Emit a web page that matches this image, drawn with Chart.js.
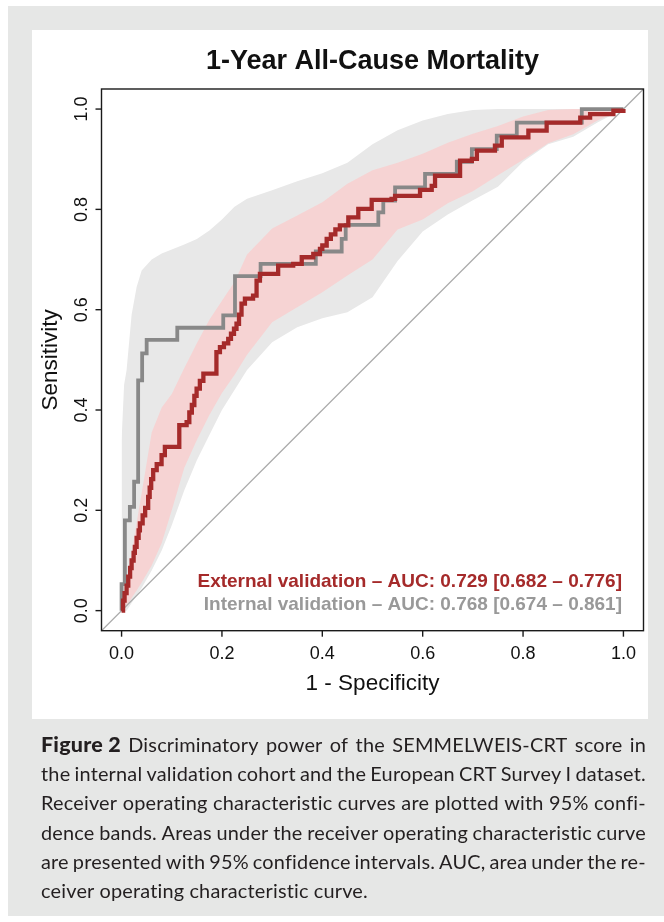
<!DOCTYPE html>
<html>
<head>
<meta charset="utf-8">
<script src="https://cdn.jsdelivr.net/npm/chart.js@4"></script>
<style>
  html, body { margin: 0; padding: 0; background: #fff; }
  #wrap { position: relative; width: 664px; height: 922px; }
  #caption {
    position: absolute; left: 41px; top: 730px; width: 605px;
    font-family: Lato, 'Noto Sans', sans-serif; font-size: 19.9px; letter-spacing: 0.2px; color: #231f20;
  }
  #caption .ln { display: flex; justify-content: space-between; height: 29.2px; line-height: 29.2px; white-space: nowrap; }
  #caption .ln.last { justify-content: flex-start; gap: 0.25em; }
  #caption b { font-weight: 900; font-size: 21.5px; }
</style>
</head>
<body>
<div id="wrap">
  <canvas id="roc" width="664" height="922"></canvas>
  <div id="caption"></div>
</div>
<script>
/* eslint-disable no-undef */
const xTicks = [0, 0.2, 0.4, 0.6, 0.8, 1.0]
const yTicks = [0, 0.2, 0.4, 0.6, 0.8, 1.0]
const axisMin = -0.04
const axisMax = 1.04

// internal validation ROC (gray, steps)
const intRocX = [0, 0, 0.0066, 0.0165, 0.025, 0.033, 0.041, 0.050, 0.111, 0.2026, 0.226, 0.277, 0.387, 0.4386, 0.4466, 0.5116, 0.5215, 0.545, 0.6047, 0.668, 0.698, 0.7476, 0.7875, 0.917, 1.0]
const intRocY = [0, 0.053, 0.18, 0.207, 0.257, 0.459, 0.513, 0.540, 0.564, 0.5886, 0.667, 0.6915, 0.716, 0.741, 0.769, 0.794, 0.8175, 0.844, 0.8706, 0.895, 0.920, 0.947, 0.973, 1.0, 1.0]

// external validation ROC (red, steps)
const extRocX = [0, 0.003, 0.006, 0.01, 0.0133, 0.017, 0.02, 0.024, 0.0265, 0.03, 0.034, 0.0365, 0.042, 0.047, 0.053, 0.056, 0.059, 0.063, 0.07, 0.0797, 0.0863, 0.115, 0.1296, 0.135, 0.14, 0.145, 0.1495, 0.156, 0.163, 0.189, 0.196, 0.204, 0.2125, 0.218, 0.224, 0.229, 0.234, 0.239, 0.2458, 0.262, 0.269, 0.2757, 0.312, 0.342, 0.359, 0.382, 0.3953, 0.40, 0.4087, 0.417, 0.426, 0.435, 0.4518, 0.4717, 0.4984, 0.538, 0.545, 0.5947, 0.618, 0.6246, 0.6745, 0.698, 0.708, 0.744, 0.7576, 0.8106, 0.847, 0.914, 0.9336, 0.98, 1.0]
const extRocY = [0, 0.02, 0.035, 0.05, 0.068, 0.085, 0.10, 0.115, 0.127, 0.145, 0.16, 0.174, 0.19, 0.205, 0.227, 0.245, 0.262, 0.280, 0.292, 0.310, 0.3265, 0.37, 0.376, 0.395, 0.41, 0.428, 0.4427, 0.458, 0.4725, 0.5155, 0.5255, 0.533, 0.542, 0.552, 0.562, 0.572, 0.59, 0.612, 0.622, 0.628, 0.658, 0.6716, 0.688, 0.6915, 0.7046, 0.711, 0.7213, 0.728, 0.741, 0.75, 0.76, 0.768, 0.784, 0.801, 0.819, 0.821, 0.827, 0.8387, 0.847, 0.867, 0.897, 0.9005, 0.917, 0.927, 0.9435, 0.957, 0.973, 0.983, 0.990, 0.9966, 1.0]

// 95% confidence bands (sensitivity at fixed 1 - specificity)
const bandX = [0, 0.005, 0.01, 0.02, 0.03, 0.04, 0.06, 0.08, 0.1, 0.125, 0.15, 0.175, 0.2, 0.225, 0.25, 0.3, 0.35, 0.4, 0.45, 0.5, 0.55, 0.6, 0.65, 0.7, 0.75, 0.8, 0.85, 0.9, 0.95, 1.0]
const intUpper = [0.34, 0.45, 0.48, 0.59, 0.645, 0.678, 0.70, 0.712, 0.72, 0.73, 0.741, 0.758, 0.78, 0.805, 0.821, 0.838, 0.856, 0.872, 0.893, 0.93, 0.958, 0.977, 0.99, 0.998, 1, 1, 1, 1, 1, 1]
const intLower = [0, 0, 0, 0.015, 0.03, 0.045, 0.08, 0.12, 0.17, 0.24, 0.3, 0.35, 0.4, 0.44, 0.48, 0.535, 0.565, 0.583, 0.595, 0.625, 0.697, 0.756, 0.79, 0.818, 0.845, 0.895, 0.93, 0.945, 0.974, 1]
const extUpper = [0, 0.025, 0.055, 0.115, 0.175, 0.234, 0.355, 0.405, 0.432, 0.484, 0.533, 0.58, 0.618, 0.655, 0.71, 0.762, 0.788, 0.814, 0.851, 0.878, 0.893, 0.911, 0.933, 0.951, 0.966, 0.985, 0.998, 1, 1, 1]
const extLower = [0, 0.003, 0.008, 0.025, 0.04, 0.056, 0.09, 0.135, 0.2, 0.285, 0.34, 0.39, 0.434, 0.47, 0.51, 0.575, 0.605, 0.635, 0.668, 0.70, 0.76, 0.78, 0.812, 0.836, 0.868, 0.899, 0.932, 0.95, 0.978, 1]

const captionLines = [
  ['<b>Figure&nbsp;2</b>', 'Discriminatory', 'power', 'of', 'the', 'SEMMELWEIS-CRT', 'score', 'in'],
  ['the', 'internal', 'validation', 'cohort', 'and', 'the', 'European', 'CRT', 'Survey', 'I', 'dataset.'],
  ['Receiver', 'operating', 'characteristic', 'curves', 'are', 'plotted', 'with', '95%', 'confi-'],
  ['dence', 'bands.', 'Areas', 'under', 'the', 'receiver', 'operating', 'characteristic', 'curve'],
  ['are', 'presented', 'with', '95%', 'confidence', 'intervals.', 'AUC,', 'area', 'under', 'the', 're-'],
  ['ceiver', 'operating', 'characteristic', 'curve.'],
]

const RED = '#a52a2a'
const GREY = '#888888'
const SANS = "'Liberation Sans', Arial, sans-serif"

const pts = (xs, ys) => xs.map((x, i) => ({ x, y: ys[i] }))

const cap = document.getElementById('caption')
captionLines.forEach((words, i) => {
  const d = document.createElement('div')
  d.className = i === captionLines.length - 1 ? 'ln last' : 'ln'
  d.innerHTML = words.map(w => '<span>' + w + '</span>').join('')
  cap.appendChild(d)
})

const frame = {
  id: 'frame',
  beforeDraw(chart) {
    const c = chart.ctx
    c.save()
    c.fillStyle = '#ffffff'
    c.fillRect(0, 0, 664, 922)
    c.fillStyle = '#e6e7e6'
    c.fillRect(8, 6, 656, 910)
    c.fillStyle = '#ffffff'
    c.fillRect(32, 30, 616, 689)
    c.restore()
  },
  afterDatasetsDraw(chart) {
    const c = chart.ctx
    const a = chart.chartArea
    const sx = chart.scales.x
    const sy = chart.scales.y
    c.save()
    c.strokeStyle = '#1a1a1a'
    c.lineWidth = 1.4
    c.strokeRect(a.left, a.top, a.right - a.left, a.bottom - a.top)

    c.fillStyle = '#111'
    c.font = '18px ' + SANS
    c.textAlign = 'center'
    c.textBaseline = 'alphabetic'
    xTicks.forEach(v => {
      const px = sx.getPixelForValue(v)
      c.beginPath()
      c.moveTo(px, a.bottom)
      c.lineTo(px, a.bottom + 6)
      c.stroke()
      c.fillText(v.toFixed(1), px, 659)
    })
    yTicks.forEach(v => {
      const py = sy.getPixelForValue(v)
      c.beginPath()
      c.moveTo(a.left, py)
      c.lineTo(a.left - 6, py)
      c.stroke()
      c.save()
      c.translate(87, py)
      c.rotate(-Math.PI / 2)
      c.fillText(v.toFixed(1), 0, 0)
      c.restore()
    })

    const cx = (a.left + a.right) / 2
    c.font = 'bold 27px ' + SANS
    c.fillText('1-Year All-Cause Mortality', cx, 69)

    c.font = '22.5px ' + SANS
    c.fillText('1 - Specificity', cx, 690)
    c.save()
    c.translate(57, (a.top + a.bottom) / 2)
    c.rotate(-Math.PI / 2)
    c.fillText('Sensitivity', 0, 0)
    c.restore()

    c.textAlign = 'right'
    c.font = 'bold 19px ' + SANS
    c.fillStyle = RED
    c.fillText('External validation \u2013 AUC: 0.729 [0.682 \u2013 0.776]', 622, 587)
    c.fillStyle = '#999999'
    c.fillText('Internal validation \u2013 AUC: 0.768 [0.674 \u2013 0.861]', 622, 610)
    c.restore()
  },
}

const ctx = document.getElementById('roc').getContext('2d')
const line = { pointRadius: 0, tension: 0, fill: false }
new Chart(ctx, {
  type: 'line',
  data: {
    datasets: [
      { ...line, label: 'External validation', data: pts(extRocX, extRocY), stepped: 'before', borderColor: RED, borderWidth: 4.3 },
      { ...line, label: 'Internal validation', data: pts(intRocX, intRocY), stepped: 'before', borderColor: GREY, borderWidth: 3.8 },
      { ...line, label: 'Chance', data: pts([axisMin, axisMax], [axisMin, axisMax]), borderColor: '#aaaaaa', borderWidth: 1.3 },
      { ...line, label: 'External CI upper', data: pts(bandX, extUpper), borderWidth: 0, borderColor: 'rgba(0,0,0,0)', fill: '+1', backgroundColor: '#f6d3d3' },
      { ...line, label: 'External CI lower', data: pts(bandX, extLower), borderWidth: 0, borderColor: 'rgba(0,0,0,0)' },
      { ...line, label: 'Internal CI upper', data: pts(bandX, intUpper), borderWidth: 0, borderColor: 'rgba(0,0,0,0)', fill: '+1', backgroundColor: '#e8e8e8' },
      { ...line, label: 'Internal CI lower', data: pts(bandX, intLower), borderWidth: 0, borderColor: 'rgba(0,0,0,0)' },
    ],
  },
  options: {
    responsive: false,
    animation: false,
    layout: { padding: { left: 101.5, top: 89, right: 20.5, bottom: 291.3 } },
    scales: {
      x: { type: 'linear', min: axisMin, max: axisMax, display: false },
      y: { type: 'linear', min: axisMin, max: axisMax, display: false },
    },
    plugins: { legend: { display: false }, tooltip: { enabled: false } },
  },
  plugins: [frame],
})
</script>
</body>
</html>
